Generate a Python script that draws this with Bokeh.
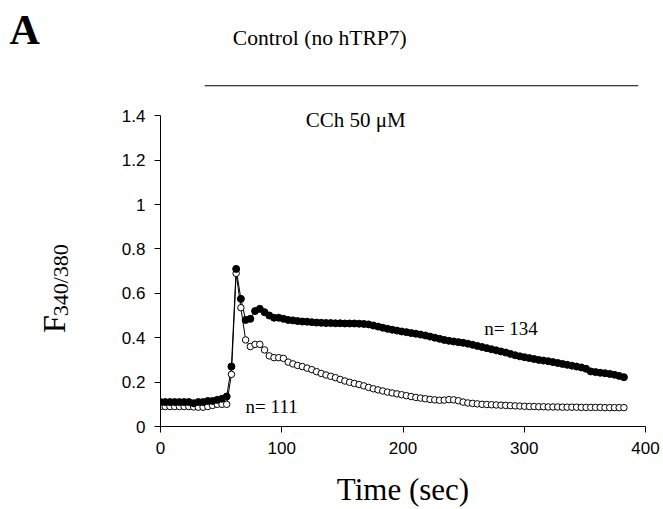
import math
from bokeh.plotting import figure
from bokeh.layouts import row
from bokeh.models import Range1d, FixedTicker, Label
from bokeh.embed import file_html
from bokeh.resources import INLINE

# ---- data ----
time_s = [0, 3.9, 7.8, 11.7, 15.6, 19.5, 23.4, 27.3, 31.2, 35.1, 39, 42.9, 46.8, 50.7,
          54.6, 58.5, 62.4, 66.3, 70.2, 74.1, 78, 81.9, 85.8, 89.7, 93.6, 97.5, 101.4,
          105.3, 109.2, 113.1, 117, 120.9, 124.8, 128.7, 132.6, 136.5, 140.4, 144.3,
          148.2, 152.1, 156, 159.9, 163.8, 167.7, 171.6, 175.5, 179.4, 183.3, 187.2,
          191.1, 195, 198.9, 202.8, 206.7, 210.6, 214.5, 218.4, 222.3, 226.2, 230.1,
          234, 237.9, 241.8, 245.7, 249.6, 253.5, 257.4, 261.3, 265.2, 269.1, 273,
          276.9, 280.8, 284.7, 288.6, 292.5, 296.4, 300.3, 304.2, 308.1, 312, 315.9,
          319.8, 323.7, 327.6, 331.5, 335.4, 339.3, 343.2, 347.1, 351, 354.9, 358.8,
          362.7, 366.6, 370.5, 374.4, 378.3, 382.2]

ratio_n134 = [0.11, 0.11, 0.11, 0.11, 0.11, 0.11, 0.11, 0.105, 0.11, 0.11, 0.115, 0.115,
              0.12, 0.125, 0.135, 0.27, 0.71, 0.575, 0.48, 0.485, 0.52, 0.53, 0.515,
              0.50, 0.49, 0.49, 0.485, 0.48, 0.478, 0.475, 0.473, 0.472, 0.47, 0.468,
              0.467, 0.466, 0.466, 0.465, 0.465, 0.464, 0.464, 0.464, 0.463, 0.462,
              0.46, 0.455, 0.45, 0.445, 0.44, 0.436, 0.432, 0.428, 0.425, 0.421, 0.418,
              0.414, 0.41, 0.405, 0.40, 0.395, 0.39, 0.386, 0.383, 0.38, 0.377, 0.373,
              0.368, 0.363, 0.358, 0.353, 0.348, 0.343, 0.338, 0.333, 0.327, 0.321,
              0.316, 0.312, 0.308, 0.304, 0.30, 0.297, 0.294, 0.29, 0.286, 0.282,
              0.278, 0.274, 0.27, 0.266, 0.26, 0.248, 0.245, 0.242, 0.24, 0.237,
              0.233, 0.228, 0.222]

ratio_n111 = [0.09, 0.09, 0.09, 0.09, 0.09, 0.09, 0.09, 0.088, 0.087, 0.087, 0.09, 0.095,
              0.10, 0.10, 0.10, 0.235, 0.69, 0.535, 0.39, 0.36, 0.37, 0.37, 0.345,
              0.318, 0.31, 0.31, 0.307, 0.29, 0.282, 0.275, 0.27, 0.263, 0.256, 0.247,
              0.239, 0.232, 0.226, 0.22, 0.212, 0.205, 0.199, 0.194, 0.189, 0.183,
              0.176, 0.17, 0.165, 0.16, 0.155, 0.151, 0.147, 0.143, 0.139, 0.135,
              0.131, 0.128, 0.125, 0.122, 0.12, 0.118, 0.119, 0.121, 0.12, 0.116,
              0.11, 0.106, 0.104, 0.102, 0.10, 0.099, 0.098, 0.097, 0.096, 0.095,
              0.094, 0.093, 0.092, 0.091, 0.09, 0.09, 0.089, 0.089, 0.088, 0.088,
              0.088, 0.087, 0.087, 0.087, 0.087, 0.086, 0.086, 0.086, 0.086, 0.086,
              0.085, 0.085, 0.085, 0.085, 0.085]

x_ticks = [0, 100, 200, 300, 400]
y_ticks = [0, 0.2, 0.4, 0.6, 0.8, 1.0, 1.2, 1.4]
y_tick_labels = ["0", "0.2", "0.4", "0.6", "0.8", "1", "1.2", "1.4"]

SERIF = "Liberation Serif"
SANS = "Liberation Sans"

H = 509
LEFT_W = 118
MAIN_W = 545
BORDER_L = 42
BORDER_R = 18
BORDER_B = 83
PX_PER_UNIT_Y = 222.0
FRAME_H = H - BORDER_B
Y_END = FRAME_H / PX_PER_UNIT_Y
Y_START_LEFT = -BORDER_B / PX_PER_UNIT_Y

# ---- main plot ----
p = figure(width=MAIN_W, height=H, output_backend="svg", toolbar_location=None,
           x_range=Range1d(x_ticks[0], x_ticks[-1]), y_range=Range1d(0, Y_END),
           min_border_left=BORDER_L, min_border_right=BORDER_R, min_border_top=0,
           min_border_bottom=BORDER_B)
p.outline_line_color = None
p.grid.visible = False

for ax in (p.xaxis[0], p.yaxis[0]):
    ax.axis_line_color = "black"
    ax.axis_line_width = 1
    ax.major_tick_line_color = "black"
    ax.major_tick_out = 6
    ax.major_tick_in = 0
    ax.minor_tick_line_color = None
    ax.major_label_text_font = SANS
    ax.major_label_text_font_size = "17px"
    ax.major_label_text_color = "black"
    ax.major_label_standoff = 9

p.xaxis[0].ticker = FixedTicker(ticks=x_ticks)
p.yaxis[0].ticker = FixedTicker(ticks=y_ticks)
p.yaxis[0].bounds = (y_ticks[0], y_ticks[-1])
p.yaxis[0].major_label_overrides = dict(zip(y_ticks, y_tick_labels))

p.xaxis[0].axis_label = "Time (sec)"
p.xaxis[0].axis_label_text_font = SERIF
p.xaxis[0].axis_label_text_font_size = "31px"
p.xaxis[0].axis_label_text_font_style = "normal"
p.xaxis[0].axis_label_text_color = "black"
p.xaxis[0].axis_label_standoff = 15

# lines
p.line(time_s, ratio_n111, line_color="black", line_width=1)
p.line(time_s, ratio_n134, line_color="black", line_width=1)
# markers
p.scatter(time_s, ratio_n111, marker="circle", size=6.5, fill_color="white",
          line_color="black", line_width=1)
p.scatter(time_s, ratio_n134, marker="circle", size=7, fill_color="black",
          line_color="black", line_width=1)


def lab(fig, x, y, text, size, align="left", bold=False, font=SERIF, angle=0.0):
    fig.add_layout(Label(x=x, y=y, text=text, text_font=font,
                         text_font_size=size, text_align=align,
                         text_baseline="alphabetic", angle=angle,
                         text_font_style="bold" if bold else "normal",
                         text_color="black"))


lab(p, 131.4, 1.752, "Control (no hTRP7)", "21.6px", align="center")
lab(p, 161, 1.382, "CCh 50 \u03bcM", "21px", align="center")
lab(p, 267, 0.443, "n= 134", "19px")
lab(p, 70.2, 0.089, "n= 111", "19px")
p.segment(x0=[36.4], y0=[1.535], x1=[394], y1=[1.535], line_color="black",
          line_width=1.2)

# ---- left strip: panel letter and y-axis title ----
q = figure(width=LEFT_W, height=H, output_backend="svg", toolbar_location=None,
           x_range=Range1d(0, LEFT_W), y_range=Range1d(Y_START_LEFT, Y_END),
           x_axis_type=None, y_axis_type=None, min_border=0)
q.outline_line_color = None
q.grid.visible = False

lab(q, 9, 1.76, "A", "42px", bold=True)
lab(q, 53, 0.129, "F", "32px", angle=math.pi / 2)
lab(q, 60, 0.219, "340/380", "22px", angle=math.pi / 2)

layout = row(q, p, spacing=0)
open("out.html", "w").write(file_html(layout, INLINE))
